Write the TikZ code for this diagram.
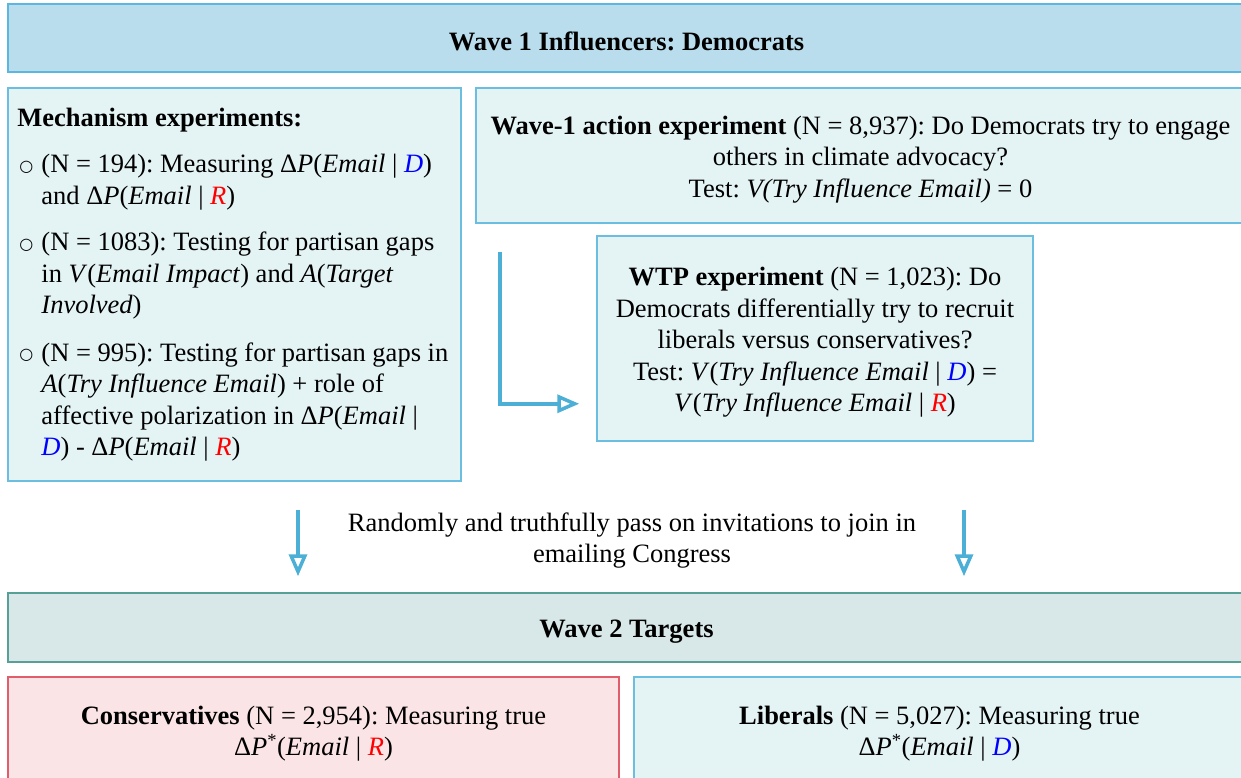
\documentclass[tikz,border=0pt]{standalone}
\usepackage{fontspec}
\setmainfont{Liberation Serif}
\newfontfamily\symfont{DejaVu Sans}
\usetikzlibrary{arrows.meta}
\frenchspacing

\definecolor{headfill}{RGB}{185,221,236}
\definecolor{headline}{RGB}{91,183,222}
\definecolor{aquafill}{RGB}{228,243,244}
\definecolor{aqualine}{RGB}{107,190,224}
\definecolor{tealfill}{RGB}{216,231,231}
\definecolor{tealline}{RGB}{86,160,150}
\definecolor{pinkfill}{RGB}{251,228,230}
\definecolor{pinkline}{RGB}{226,93,107}
\definecolor{arrowblue}{RGB}{75,175,214}

% shorthands for the formulas
\newcommand{\dP}{Δ\textit{P}}
\newcommand{\Dm}{\textcolor{blue}{\textit{D}}}
\newcommand{\Rp}{\textcolor{red}{\textit{R}}}
\newcommand{\bul}{\makebox[24pt][l]{\hspace*{2pt}\raisebox{1.5pt}{\symfont\fontsize{16}{16}\selectfont ○}}}
\newcommand{\ind}{\hspace*{24pt}}
\newcommand{\tstrut}{\rule{0pt}{26pt}}

\begin{document}
\begin{tikzpicture}[x=1pt, y=-1pt,
    every node/.style={font=\fontsize{26.5}{31.5}\selectfont, inner sep=0pt},
    headbox/.style={draw=headline, fill=headfill, line width=1.5pt},
    aquabox/.style={draw=aqualine, fill=aquafill, line width=1.5pt},
    tealbox/.style={draw=tealline, fill=tealfill, line width=1.5pt},
    pinkbox/.style={draw=pinkline, fill=pinkfill, line width=1.5pt},
    flowarrow/.style={draw=arrowblue, line width=3.5pt,
        -{Triangle[open, length=22pt, width=18pt]}}]

    \useasboundingbox (0,0) rectangle (1241,778);
    \clip (0,0) rectangle (1241,778);

    % Wave 1 header
    \node[headbox, minimum width=1237, minimum height=68] (wave1) at (626.5,38)
        {\tstrut\textbf{Wave 1 Influencers: Democrats}};

    % Mechanism experiments
    \node[aquabox, minimum width=453, minimum height=393] (mech) at (234.5,284.5) {};
    \node[anchor=west, align=left] (mechtext) at ([xshift=10pt]mech.west)
        {\textbf{Mechanism experiments:}\\[15pt]
         \bul(N = 194): Measuring \dP(\textit{Email} | \Dm)\\
         \ind and \dP(\textit{Email} | \Rp)\\[15pt]
         \bul(N = 1083): Testing for partisan gaps\\
         \ind in \textit{V}(\textit{Email Impact}) and \textit{A}(\textit{Target}\\
         \ind\textit{Involved})\\[16pt]
         \bul(N = 995): Testing for partisan gaps in\\
         \ind\textit{A}(\textit{Try Influence Email}) + role of\\
         \ind affective polarization in \dP(\textit{Email} |\\
         \ind\Dm) - \dP(\textit{Email} | \Rp)};

    % Action experiment
    \node[aquabox, minimum width=769, minimum height=135, align=center] (action) at (860.5,155.5)
        {\tstrut\textbf{Wave-1 action experiment} (N = 8,937): Do Democrats try to engage\\
         others in climate advocacy?\\
         Test: \textit{V(Try Influence Email)} = 0};

    % WTP experiment
    \node[aquabox, minimum width=436, minimum height=205, align=center] (wtp) at (815,338.5)
        {\tstrut\textbf{WTP experiment} (N = 1,023): Do\\
         Democrats differentially try to recruit\\
         liberals versus conservatives?\\
         Test: \textit{V}(\textit{Try Influence Email} | \Dm) =\\
         \textit{V}(\textit{Try Influence Email} | \Rp)};

    % Wave 2 header
    \node[tealbox, minimum width=1237, minimum height=69] (wave2) at (626.5,627.5)
        {\tstrut\textbf{Wave 2 Targets}};

    % Targets
    \node[pinkbox, minimum width=611, minimum height=106, align=center] (cons) at (313.5,730)
        {\tstrut\textbf{Conservatives} (N = 2,954): Measuring true\\
         \dP\textsuperscript{*}(\textit{Email} | \Rp)};
    \node[aquabox, minimum width=611, minimum height=106, align=center] (lib) at (939.5,730)
        {\tstrut\textbf{Liberals} (N = 5,027): Measuring true\\
         \dP\textsuperscript{*}(\textit{Email} | \Dm)};

    % Pass-on text
    \node[align=center] (pass) at (632,537)
        {\tstrut Randomly and truthfully pass on invitations to join in\\ emailing Congress};

    % Arrows
    \coordinate (elb) at (500,252);
    \coordinate (dleft) at (298,510);
    \coordinate (dright) at (964,510);
    \draw[flowarrow, shorten >=17pt] (elb) |- ([yshift=38pt]wtp.south west);
    \draw[flowarrow, shorten >=16pt] (dleft) -- (dleft |- wave2.north);
    \draw[flowarrow, shorten >=16pt] (dright) -- (dright |- wave2.north);

\end{tikzpicture}
\end{document}
